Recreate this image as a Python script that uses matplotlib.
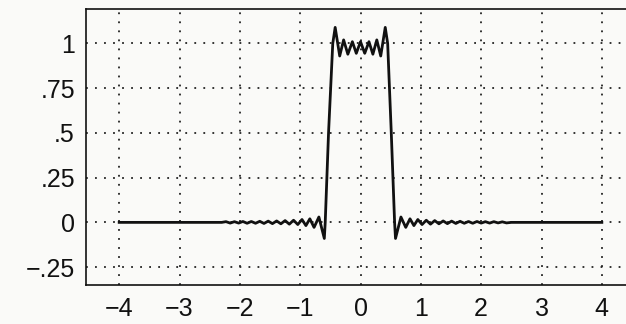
import matplotlib.pyplot as plt
from matplotlib.ticker import FixedLocator, FixedFormatter

plt.rcParams["font.family"] = ["Liberation Sans", "DejaVu Sans"]

# curve (x, y)
curve_x = [-4.0, -2.3, -2.23, -2.16, -2.09, -2.02, -1.95, -1.88, -1.81, -1.74,
           -1.67, -1.60, -1.53, -1.46, -1.39, -1.32, -1.25, -1.18, -1.11, -1.04,
           -0.97, -0.905, -0.84, -0.77, -0.69, -0.60, -0.585, -0.53, -0.46, -0.42,
           -0.345, -0.28, -0.21, -0.135, -0.07, 0.0, 0.07, 0.14, 0.205, 0.27,
           0.335, 0.41, 0.45, 0.51, 0.565, 0.58,
           0.67, 0.75, 0.82, 0.885, 0.95, 1.02, 1.09, 1.16, 1.23, 1.30,
           1.37, 1.44, 1.51, 1.58, 1.65, 1.72, 1.79, 1.86, 1.93, 2.00,
           2.07, 2.14, 2.21, 2.28, 2.35, 2.42, 2.5, 4.0]
curve_y = [0.0, 0.0, 0.004, -0.004, 0.004, -0.004, 0.005, -0.005, 0.005, -0.005,
           0.006, -0.006, 0.007, -0.007, 0.008, -0.008, 0.01, -0.01, 0.012, -0.012,
           0.016, -0.018, 0.02, -0.028, 0.03, -0.09, 0.0, 0.5, 1.0, 1.09,
           0.93, 1.02, 0.94, 1.01, 0.945, 1.01, 0.945, 1.01, 0.94, 1.02,
           0.93, 1.09, 1.0, 0.5, 0.0, -0.09,
           0.03, -0.028, 0.02, -0.018, 0.016, -0.012, 0.012, -0.01, 0.01, -0.008,
           0.008, -0.007, 0.007, -0.006, 0.006, -0.005, 0.005, -0.005, 0.005, -0.004,
           0.004, -0.004, 0.004, -0.003, 0.003, -0.003, 0.0, 0.0]

x_ticks = [-4, -3, -2, -1, 0, 1, 2, 3, 4]
x_labels = ["\u22124", "\u22123", "\u22122", "\u22121", "0", "1", "2", "3", "4"]
y_ticks = [-0.25, 0, 0.25, 0.5, 0.75, 1]
y_labels = ["\u2212.25", "0", ".25", ".5", ".75", "1"]

bg = "#fafaf8"
fig = plt.figure(figsize=(6.26, 3.24), dpi=100, facecolor=bg)
ax = fig.add_axes([0.1374, 0.1204, 0.877, 0.8503], facecolor=bg)

ax.plot(curve_x, curve_y, color="#111111", linewidth=2.0, solid_joinstyle="round")

ax.set_xlim(-4.55, 4.55)
ax.set_ylim(-0.35, 1.19)

ax.xaxis.set_major_locator(FixedLocator(x_ticks))
ax.xaxis.set_major_formatter(FixedFormatter(x_labels))
ax.yaxis.set_major_locator(FixedLocator(y_ticks))
ax.yaxis.set_major_formatter(FixedFormatter(y_labels))
ax.tick_params(axis="both", length=0, labelsize=18, colors="#111111")
ax.tick_params(axis="x", pad=9)
ax.tick_params(axis="y", pad=8)

ax.grid(True, color="#222222", linestyle=(0, (1, 4)), linewidth=1.3)
ax.set_axisbelow(True)

for side in ["left", "top", "bottom"]:
    ax.spines[side].set_linewidth(1.2)
    ax.spines[side].set_color("#111111")
ax.spines["right"].set_visible(False)

fig.savefig("out.png", dpi=100, facecolor=bg)
